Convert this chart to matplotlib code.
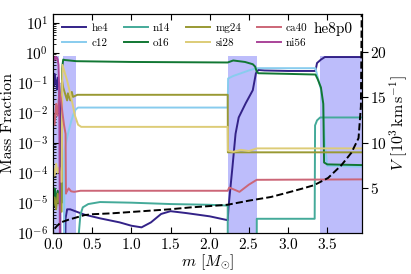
"""Mass-fraction profile with velocity overlay for model he8p0."""
import numpy as np
import matplotlib

matplotlib.use("Agg")
import matplotlib.pyplot as plt  # noqa: E402

plt.rcParams["font.family"] = "serif"
plt.rcParams["font.serif"] = ["cmr10"]
plt.rcParams["mathtext.fontset"] = "cm"
plt.rcParams["axes.formatter.use_mathtext"] = True

MODEL = "he8p0"
OFF = 1e-8  # below the plotted range

# --- mass coordinate / abundance profiles ---
m_he4 = [0.0, 0.01, 0.02, 0.03, 0.04, 0.05, 0.06, 0.07, 0.08, 0.09, 0.095, 0.15, 0.16, 0.18,
         0.22, 0.3, 0.4, 0.6, 0.85, 1.0, 1.13, 1.25, 1.38, 1.5, 1.7, 2.0, 2.23, 2.24, 2.29,
         2.33, 2.37, 2.46, 2.55, 2.59, 2.62, 2.7, 3.0, 3.35, 3.37, 3.42, 3.47, 3.94]
x_he4 = [0.15, 0.08, 0.2, 0.1, 0.12, 0.06, 0.15, 0.08, 0.1, 0.02, OFF, OFF, 3e-6, 6e-6,
         6e-6, 5e-6, 4e-6, 3e-6, 2.2e-6, 1.7e-6, 1.5e-6, 2.2e-6, 4.2e-6, 5.2e-6, 4.5e-6, 3.5e-6, 2.6e-6, 7e-6, 1.5e-4,
         2e-3, 7e-3, 0.021, 0.057, 0.21, 0.27, 0.26, 0.25, 0.25, 0.46, 0.6, 0.73, 0.73]

m_c12 = [0.0, 0.14, 0.145, 0.15, 0.16, 0.18, 0.2, 0.23, 0.26, 0.29, 0.32, 2.23, 2.235, 2.3,
         2.4, 2.5, 2.58, 2.62, 3.0, 3.35, 3.38, 3.42, 3.45, 3.47, 3.5, 3.94]
x_c12 = [OFF, OFF, 3e-4, 6e-4, 8e-4, 1.5e-3, 2.5e-3, 5e-3, 9e-3, 0.013, 0.015, 0.015, 0.14, 0.17,
         0.21, 0.26, 0.3, 0.31, 0.31, 0.31, 0.15, 0.06, 0.015, 1e-3, 1.7e-4, 1.6e-4]

m_n14 = [0.0, 0.32, 0.33, 0.35, 0.38, 0.45, 0.6, 1.0, 1.5, 2.0, 2.23, 2.231, 2.6, 2.601,
         3.34, 3.345, 3.37, 3.41, 3.94]
x_n14 = [OFF, OFF, 1e-6, 4e-6, 7e-6, 9e-6, 1.05e-5, 1e-5, 9e-6, 8.5e-6, 8e-6, OFF, OFF, 2.9e-6,
         2.9e-6, 3.8e-3, 5.6e-3, 7e-3, 7e-3]

m_o16 = [0.0, 0.01, 0.02, 0.03, 0.04, 0.05, 0.06, 0.07, 0.08, 0.1, 0.11, 0.115, 0.13, 0.15,
         0.3, 1.0, 2.23, 2.3, 2.45, 2.55, 2.58, 2.6, 2.62, 3.0, 3.35, 3.38, 3.42, 3.45, 3.46,
         3.5, 3.94]
x_o16 = [2e-5, 1e-5, 3e-5, 8e-6, 2e-5, 1.2e-5, 2.5e-5, 1e-5, 1.5e-5, 1e-5, 1e-5, 0.3, 0.6, 0.58,
         0.53, 0.5, 0.48, 0.56, 0.5, 0.42, 0.35, 0.24, 0.21, 0.2, 0.19, 0.13, 0.07, 0.02, 2.2e-4,
         1.9e-4, 1.8e-4]

m_mg24 = [0.0, 0.02, 0.04, 0.06, 0.08, 0.1, 0.11, 0.115, 0.13, 0.18, 0.19, 0.22, 0.24, 0.255,
          0.31, 2.23, 2.232, 2.4, 2.6, 3.94]
x_mg24 = [8e-6, 1.5e-5, 6e-6, 2e-5, 1e-5, 5e-6, 5e-6, 0.12, 0.07, 0.026, 0.045, 0.026, 0.05, 0.034,
          0.04, 0.04, 4.8e-4, 4.8e-4, 4.8e-4, 4.8e-4]

m_si28 = [0.0, 0.02, 0.04, 0.06, 0.08, 0.1, 0.11, 0.12, 0.18, 0.24, 0.28, 0.32, 0.36, 2.23,
          2.232, 2.3, 2.4, 2.5, 2.6, 3.94]
x_si28 = [1.5e-4, 8e-5, 2e-4, 1e-4, 1.5e-4, 5e-5, 5e-5, 0.4, 0.12, 0.026, 0.008, 0.004, 0.0034, 0.0034,
          5.5e-4, 5e-4, 5.8e-4, 5.3e-4, 6.5e-4, 6.5e-4]

m_ca40 = [0.0, 0.02, 0.04, 0.06, 0.08, 0.1, 0.12, 0.14, 0.16, 0.165, 0.17, 0.2, 0.23, 0.27,
          0.35, 2.23, 2.25, 2.38, 2.5, 2.6, 3.94]
x_ca40 = [0.01, 0.004, 0.02, 0.008, 0.05, 0.03, 0.01, 4e-3, 2e-3, 2e-5, 2.2e-5, 3e-5, 2.4e-5, 2.3e-5,
          2.5e-5, 2.5e-5, 3.2e-5, 2.3e-5, 4e-5, 5.8e-5, 6e-5]

m_ni56 = [0.0, 0.01, 0.02, 0.03, 0.04, 0.05, 0.06, 0.07, 0.08, 0.09, 0.1]
x_ni56 = [0.5, 0.7, 0.6, 0.75, 0.65, 0.7, 0.6, 0.4, 0.05, OFF, OFF]

# velocity profile [10^3 km/s]
m_vel = [0.02, 0.05, 0.1, 0.2, 0.3, 0.4, 0.5, 0.75, 1.0, 1.25, 1.5, 1.75, 2.0, 2.23, 2.5,
         2.78, 3.0, 3.17, 3.33, 3.51, 3.68, 3.81, 3.9, 3.93, 3.94]
vel = [0.5, 0.8, 1.2, 1.5, 1.75, 2.0, 2.1, 2.2, 2.35, 2.5, 2.65, 2.85, 3.0, 3.15, 3.6,
       4.0, 4.5, 4.9, 5.3, 6.1, 7.5, 8.9, 10.5, 14.0, 24.2]

# shaded mass ranges
shade_lo = [0.0, 0.13, 2.235, 3.41]
shade_hi = [0.08, 0.29, 2.6, 3.94]
shade_top = 0.8

species = ["he4", "c12", "n14", "o16", "mg24", "si28", "ca40", "ni56"]
profiles = {
    "he4": (m_he4, x_he4), "c12": (m_c12, x_c12), "n14": (m_n14, x_n14), "o16": (m_o16, x_o16),
    "mg24": (m_mg24, x_mg24), "si28": (m_si28, x_si28), "ca40": (m_ca40, x_ca40),
    "ni56": (m_ni56, x_ni56),
}
colors = {
    "he4": "#332288", "c12": "#88CCEE", "n14": "#44AA99", "o16": "#117733",
    "mg24": "#999933", "si28": "#DDCC77", "ca40": "#CC6677", "ni56": "#AA4499",
}

fig = plt.figure(figsize=(4.11, 2.74), dpi=100)
ax = fig.add_axes([0.129, 0.151, 0.751, 0.798])

for lo, hi in zip(shade_lo, shade_hi):
    ax.fill_between([lo, hi], 1e-9, shade_top, color="#bdbdfb", lw=0, zorder=0)

for sp in species:
    mm, xx = profiles[sp]
    ax.plot(mm, xx, color=colors[sp], lw=1.4, label=sp)

ax.set_yscale("log")
ax.set_ylim(1e-6, 20)
ax.set_xlim(0, 3.94)
ax.set_xticks(np.arange(0, 4.0, 0.5))
ax.set_ylabel("Mass Fraction", fontsize=11.5, labelpad=1)
ax.set_xlabel(r"$m$ [$M_{\odot}$]", fontsize=11.5, labelpad=0)
ax.tick_params(which="both", direction="in", top=True, right=False, labelsize=11)
ax.tick_params(which="major", length=4)
ax.tick_params(which="minor", length=2)

ax.legend(loc="upper left", ncol=4, frameon=False, fontsize=8, handlelength=2.2,
          handletextpad=0.45, columnspacing=1.4, labelspacing=0.45,
          borderaxespad=0.4, bbox_to_anchor=(0.0, 1.0))
ax.text(0.97, 0.965, MODEL, transform=ax.transAxes, ha="right", va="top", fontsize=11)

ax2 = ax.twinx()
ax2.plot(m_vel, vel, color="k", ls="--", lw=1.4)
ax2.set_ylim(0.07, 24.2)
ax2.set_yticks([5, 10, 15, 20])
ax2.set_ylabel(r"$V$ [$10^3\,\mathrm{km\,s^{-1}}$]", fontsize=11.5, labelpad=1)
ax2.tick_params(direction="out", length=4, pad=2, labelsize=11)

fig.savefig("out.png", dpi=100)
